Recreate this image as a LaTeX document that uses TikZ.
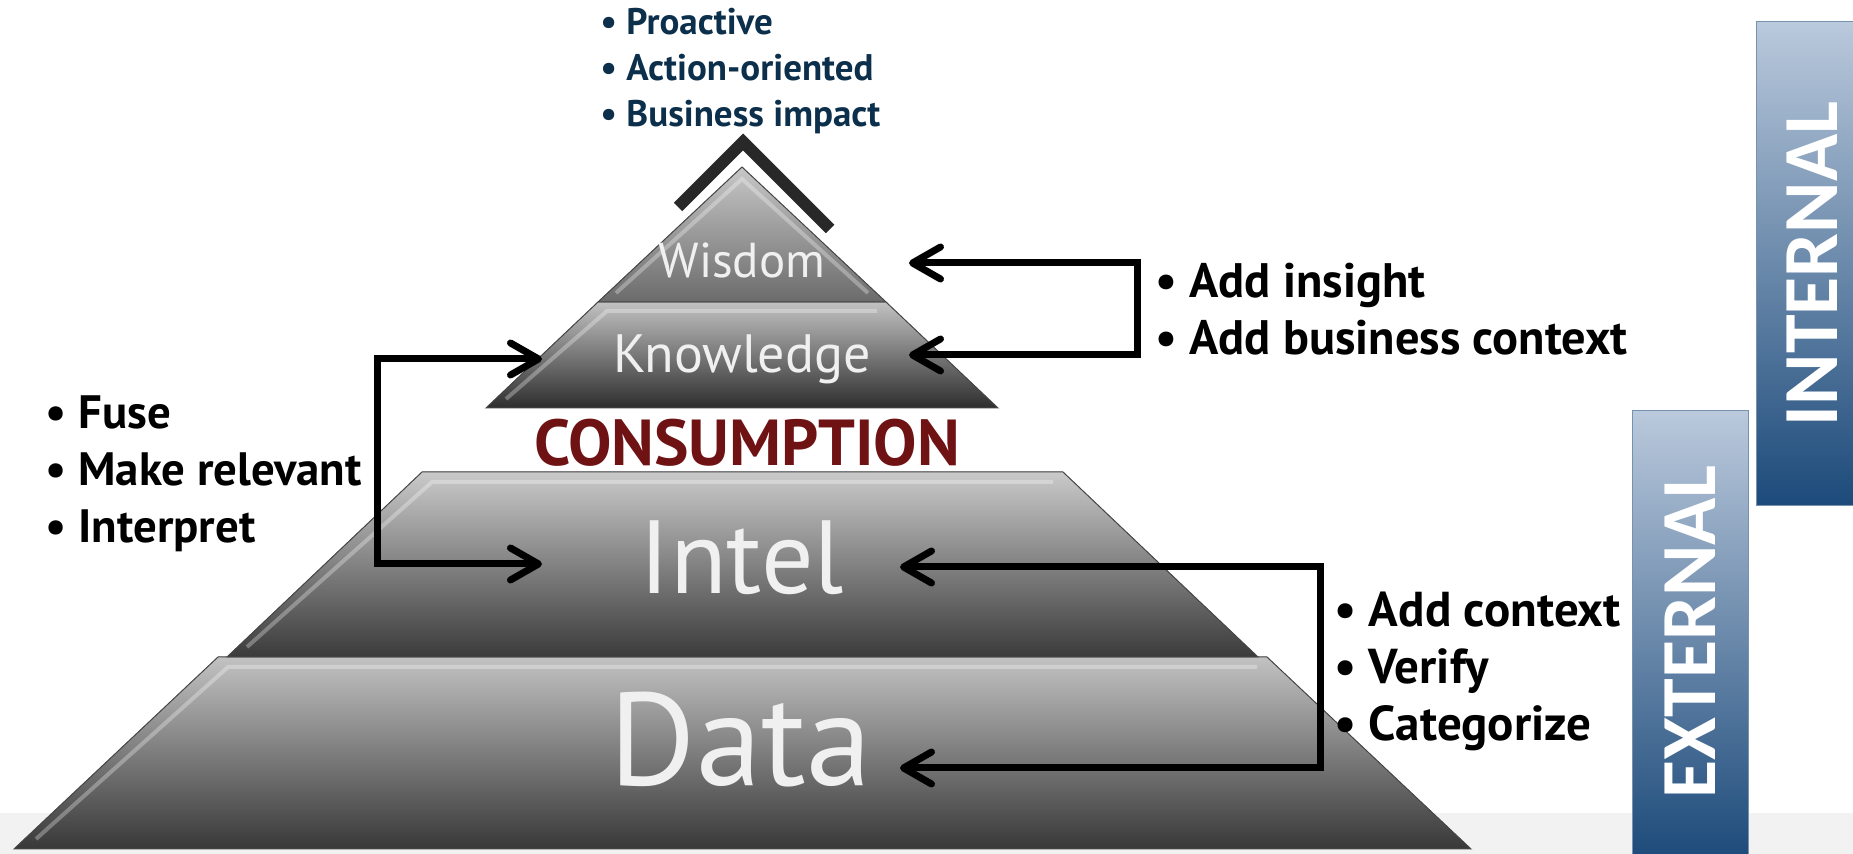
\documentclass[tikz,border=0pt]{standalone}
\usepackage{fontspec}
\setmainfont{PT Sans}
\newfontfamily\boxfont{Carlito}
\usetikzlibrary{arrows.meta}
\definecolor{navytext}{RGB}{12,48,76}
\definecolor{consred}{RGB}{110,18,20}
\definecolor{boxtop}{RGB}{186,201,220}
\definecolor{boxbot}{RGB}{28,74,122}
\definecolor{chevron}{RGB}{40,40,40}
\definecolor{band}{RGB}{242,242,242}
\definecolor{pieceline}{RGB}{70,70,70}
\begin{document}
\begin{tikzpicture}[x=0.5pt,y=-0.5pt,
    piece/.style={draw=pieceline, line width=0.5pt},
    bevel/.style={draw=white, opacity=0.3, line width=2pt},
    lbl/.style={text=white!94!black, inner sep=0pt, anchor=base},
    note/.style={font=\bfseries\fontsize{24.2}{28.5}\selectfont, align=left, inner sep=0pt, anchor=base west},
    sidebox/.style={top color=boxtop, bottom color=boxbot, draw=boxbot!60, line width=0.5pt},
    sidetext/.style={rotate=90, text=white, font=\boxfont\bfseries\fontsize{39}{39}\selectfont, inner sep=0pt},
    link/.style={line width=3.5pt, <->, >={Straight Barb[length=14pt,width=16pt,round]}}]
  \useasboundingbox (0,0) rectangle (1853,854);
  \fill[band] (0,813) rectangle (1853,854);
  \path[sidebox] (1756,22) rectangle (1872,506);
  \path[sidebox] (1632,411) rectangle (1748,860);
  \node[sidetext] (internal) at (1812,264) {INTERNAL};
  \node[sidetext] (external) at (1690,632) {EXTERNAL};
  \draw[chevron, line width=6pt, miter limit=10] (678,207) -- (743,142) -- (830,229);
  \filldraw[piece, top color=black!24, bottom color=black!78] (218,657) -- (1267,657) -- (1471,849) -- (14,849) -- cycle;
  \filldraw[piece, top color=black!21, bottom color=black!77] (422,472) -- (1063,472) -- (1258,657) -- (227,657) -- cycle;
  \filldraw[piece, top color=black!24, bottom color=black!82] (598,302) -- (886,302) -- (998,408) -- (486,408) -- cycle;
  \filldraw[piece, top color=black!22, bottom color=black!58] (742,167) -- (886,302) -- (598,302) -- cycle;
  \draw[bevel] (36,839) -- (228,667) -- (1257,667);
  \draw[bevel] (247,647) -- (432,482) -- (1053,482);
  \draw[bevel] (506,399) -- (607,311) -- (877,311);
  \draw[bevel] (616,293) -- (742,179) -- (868,293);
  \node[lbl, font=\fontsize{24.5}{24.5}\selectfont] (wisdom) at (742,278) {Wisdom};
  \node[lbl, font=\fontsize{27}{27}\selectfont] (knowledge) at (742,373) {Knowledge};
  \node[lbl, text=consred, font=\bfseries\fontsize{32.5}{32.5}\selectfont] (consumption) at (747,466) {CONSUMPTION};
  \node[lbl, font=\fontsize{52}{52}\selectfont] (intel) at (742,594) {Intel};
  \node[lbl, font=\fontsize{66}{66}\selectfont] (data) at (741,786) {Data};
  \coordinate (kleft) at (542,359);
  \coordinate (ileft) at (542,564);
  \coordinate (wright) at (909,263);
  \coordinate (kright) at (909,355);
  \coordinate (iright) at (900,567);
  \coordinate (dright) at (900,768);
  \draw[link] (kleft) -- ++(-165,0) |- (ileft);
  \draw[link] (wright) -- ++(228,0) |- (kright);
  \draw[link] (iright) -- ++(420,0) |- (dright);
  \node[note, text=navytext, font=\bfseries\fontsize{18.5}{23}\selectfont] (goals) at (600,127)
    {\textbullet\ Proactive\\ \textbullet\ Action-oriented\\ \textbullet\ Business impact};
  \node[note, font=\bfseries\fontsize{23.4}{28.5}\selectfont] (fusenotes) at (45,543)
    {\textbullet\ Fuse\\ \textbullet\ Make relevant\\ \textbullet\ Interpret};
  \node[note] (insightnotes) at (1155,355)
    {\textbullet\ Add insight\\ \textbullet\ Add business context};
  \node[note, font=\bfseries\fontsize{24.5}{28.5}\selectfont] (contextnotes) at (1334,741)
    {\textbullet\ Add context\\ \textbullet\ Verify\\ \textbullet\ Categorize};
\end{tikzpicture}
\end{document}
